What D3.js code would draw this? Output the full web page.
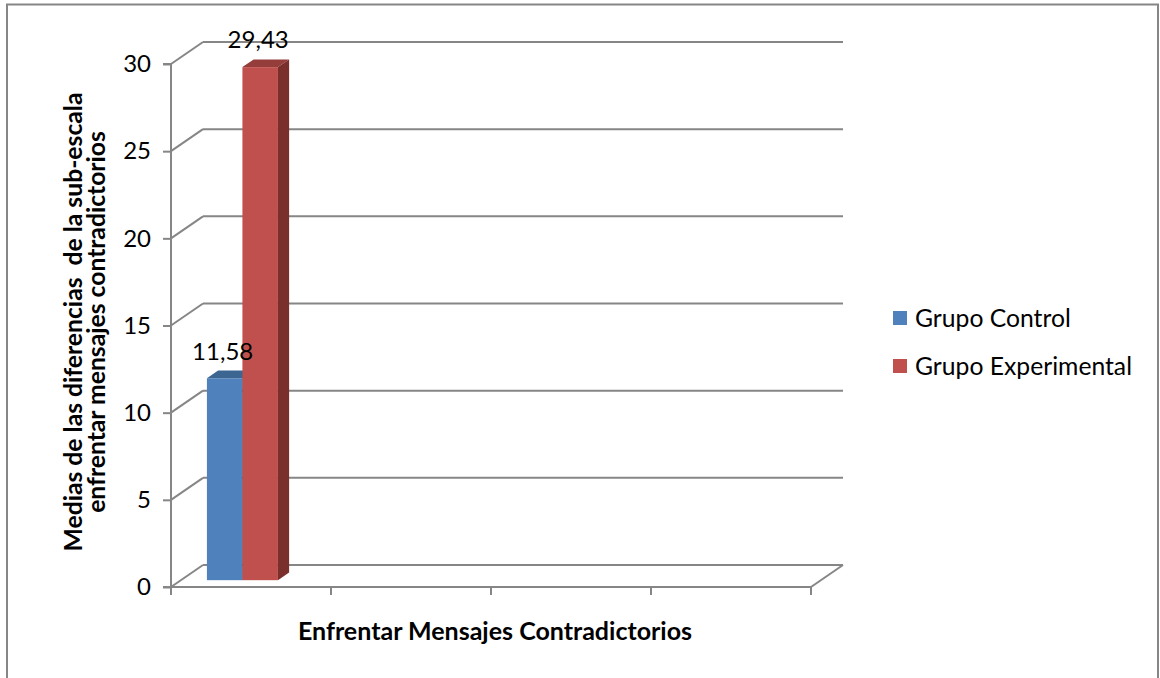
<!DOCTYPE html>
<html>
<head>
<meta charset="utf-8">
<script src="https://cdn.jsdelivr.net/npm/d3@7"></script>
<style>
  html, body { margin: 0; padding: 0; background: #fff; }
  svg { display: block; }
  text { font-family: Lato, "Open Sans", sans-serif; fill: #000; }
</style>
</head>
<body>
<svg id="chart" width="1160" height="678"></svg>
<script>
// Category slots along the floor; only the first one holds data
const categories = ["Enfrentar Mensajes Contradictorios", "", "", ""];
const seriesNames = ["Grupo Control", "Grupo Experimental"];
const seriesValues = [[11.58], [29.43]];
const valueLabels = [["11,58"], ["29,43"]];
const yTicks = [0, 5, 10, 15, 20, 25, 30];
const seriesColors = [
  { front: "#4F81BD", top: "#3D6592", side: "#2F4F74" },
  { front: "#C0504D", top: "#953D3B", side: "#7A2F2D" }
];

const svg = d3.select("#chart");
const grid = "#868686";

// Outer frame
svg.append("rect")
  .attr("x", 7).attr("y", 4.5).attr("width", 1151).attr("height", 700)
  .attr("fill", "none").attr("stroke", grid).attr("stroke-width", 2);

// Oblique 3D geometry: front plane, bar planes and back wall share a depth direction
const depth = { dx: 32, dy: -22 };
const barFront = 0.31, barBack = 0.66;

const x = d3.scaleBand().domain(d3.range(categories.length)).range([171, 811]).padding(0);
const y = d3.scaleLinear().domain([0, 30]).range([587, 64]);
const xs = d3.scaleBand().domain(seriesNames)
  .range([x(0) + 26, x(0) + 97]).padding(0);

const gGrid = svg.append("g").attr("stroke", grid).attr("stroke-width", 2).attr("fill", "none");

// Back wall gridlines and left wall diagonals
yTicks.forEach(v => {
  const yf = y(v), yb = y(v) + depth.dy;
  gGrid.append("line")
    .attr("x1", x.range()[0] + depth.dx).attr("x2", x.range()[1] + depth.dx)
    .attr("y1", yb).attr("y2", yb);
  gGrid.append("line")
    .attr("x1", x.range()[0]).attr("y1", yf)
    .attr("x2", x.range()[0] + depth.dx).attr("y2", yb);
});

// Floor front edge and right diagonal
gGrid.append("line")
  .attr("x1", x.range()[0]).attr("x2", x.range()[1])
  .attr("y1", y(0)).attr("y2", y(0));
gGrid.append("line")
  .attr("x1", x.range()[1]).attr("y1", y(0))
  .attr("x2", x.range()[1] + depth.dx).attr("y2", y(0) + depth.dy);

// Category tick marks
const catEdges = categories.map((c, i) => x(i)).concat([x.range()[1]]);
catEdges.forEach(cx => {
  gGrid.append("line").attr("x1", cx).attr("x2", cx)
    .attr("y1", y(0)).attr("y2", y(0) + 8);
});

// Bars (prisms) drawn on the bar planes
const gBars = svg.append("g");
seriesNames.forEach((s, si) => {
  categories.forEach((c, ci) => {
    const v = seriesValues[si][ci];
    if (v === undefined) return;
    const fx = depth.dx * barFront, fy = depth.dy * barFront;
    const bx = depth.dx * barBack, by = depth.dy * barBack;
    const x0 = xs(s) - x(0) + x(ci) + fx;
    const x1 = x0 + xs.bandwidth();
    const yTop = y(v) + fy, yBase = y(0) + fy;
    const ddx = bx - fx, ddy = by - fy;
    const col = seriesColors[si];
    // front face
    gBars.append("rect")
      .attr("x", x0).attr("y", yTop).attr("width", x1 - x0).attr("height", yBase - yTop)
      .attr("fill", col.front);
    // top face
    gBars.append("path")
      .attr("d", `M${x0},${yTop}L${x0 + ddx},${yTop + ddy}L${x1 + ddx},${yTop + ddy}L${x1},${yTop}Z`)
      .attr("fill", col.top);
    // right side face
    gBars.append("path")
      .attr("d", `M${x1},${yTop}L${x1 + ddx},${yTop + ddy}L${x1 + ddx},${yBase + ddy}L${x1},${yBase}Z`)
      .attr("fill", col.side);
    // value label
    svg.append("text")
      .attr("x", (x0 + x1) / 2 - 2).attr("y", yTop + ddy - 11)
      .attr("text-anchor", "middle").attr("font-size", 24)
      .text(valueLabels[si][ci]);
  });
});

// Front value axis with ticks
const yAxis = d3.axisLeft(y).tickValues(yTicks).tickSize(8).tickPadding(12).tickFormat(d3.format("d"));
const gy = svg.append("g").attr("transform", `translate(${x.range()[0]},0)`).call(yAxis);
gy.select(".domain").attr("stroke", grid).attr("stroke-width", 2)
  .attr("d", `M-8,${y(30)}H0V${y(0)}H-8`);
gy.selectAll(".tick line").attr("stroke", grid).attr("stroke-width", 2);
gy.selectAll(".tick text").attr("font-size", 24).attr("font-family", "Lato, sans-serif").attr("fill", "#000");

// Axis titles
svg.append("text")
  .attr("x", 495).attr("y", 640)
  .attr("text-anchor", "middle").attr("font-size", 25).attr("font-weight", "bold")
  .text("Enfrentar Mensajes Contradictorios");

const yTitle = svg.append("text")
  .attr("transform", "translate(0,322) rotate(-90)")
  .attr("text-anchor", "middle").attr("font-size", 24.7).attr("font-weight", "bold");
yTitle.append("tspan").attr("x", 0).attr("y", 82).attr("xml:space", "preserve")
  .text("Medias de las diferencias  de la sub-escala");
yTitle.append("tspan").attr("x", 0).attr("y", 105)
  .text("enfrentar mensajes contradictorios");

// Legend
const legend = svg.append("g");
seriesNames.forEach((s, i) => {
  const ly = 318 + i * 48;
  legend.append("rect")
    .attr("x", 893).attr("y", ly - 7).attr("width", 14).attr("height", 14)
    .attr("fill", seriesColors[i].front);
  legend.append("text")
    .attr("x", 915).attr("y", ly + 9).attr("font-size", 24.7)
    .text(s);
});
</script>
</body>
</html>
